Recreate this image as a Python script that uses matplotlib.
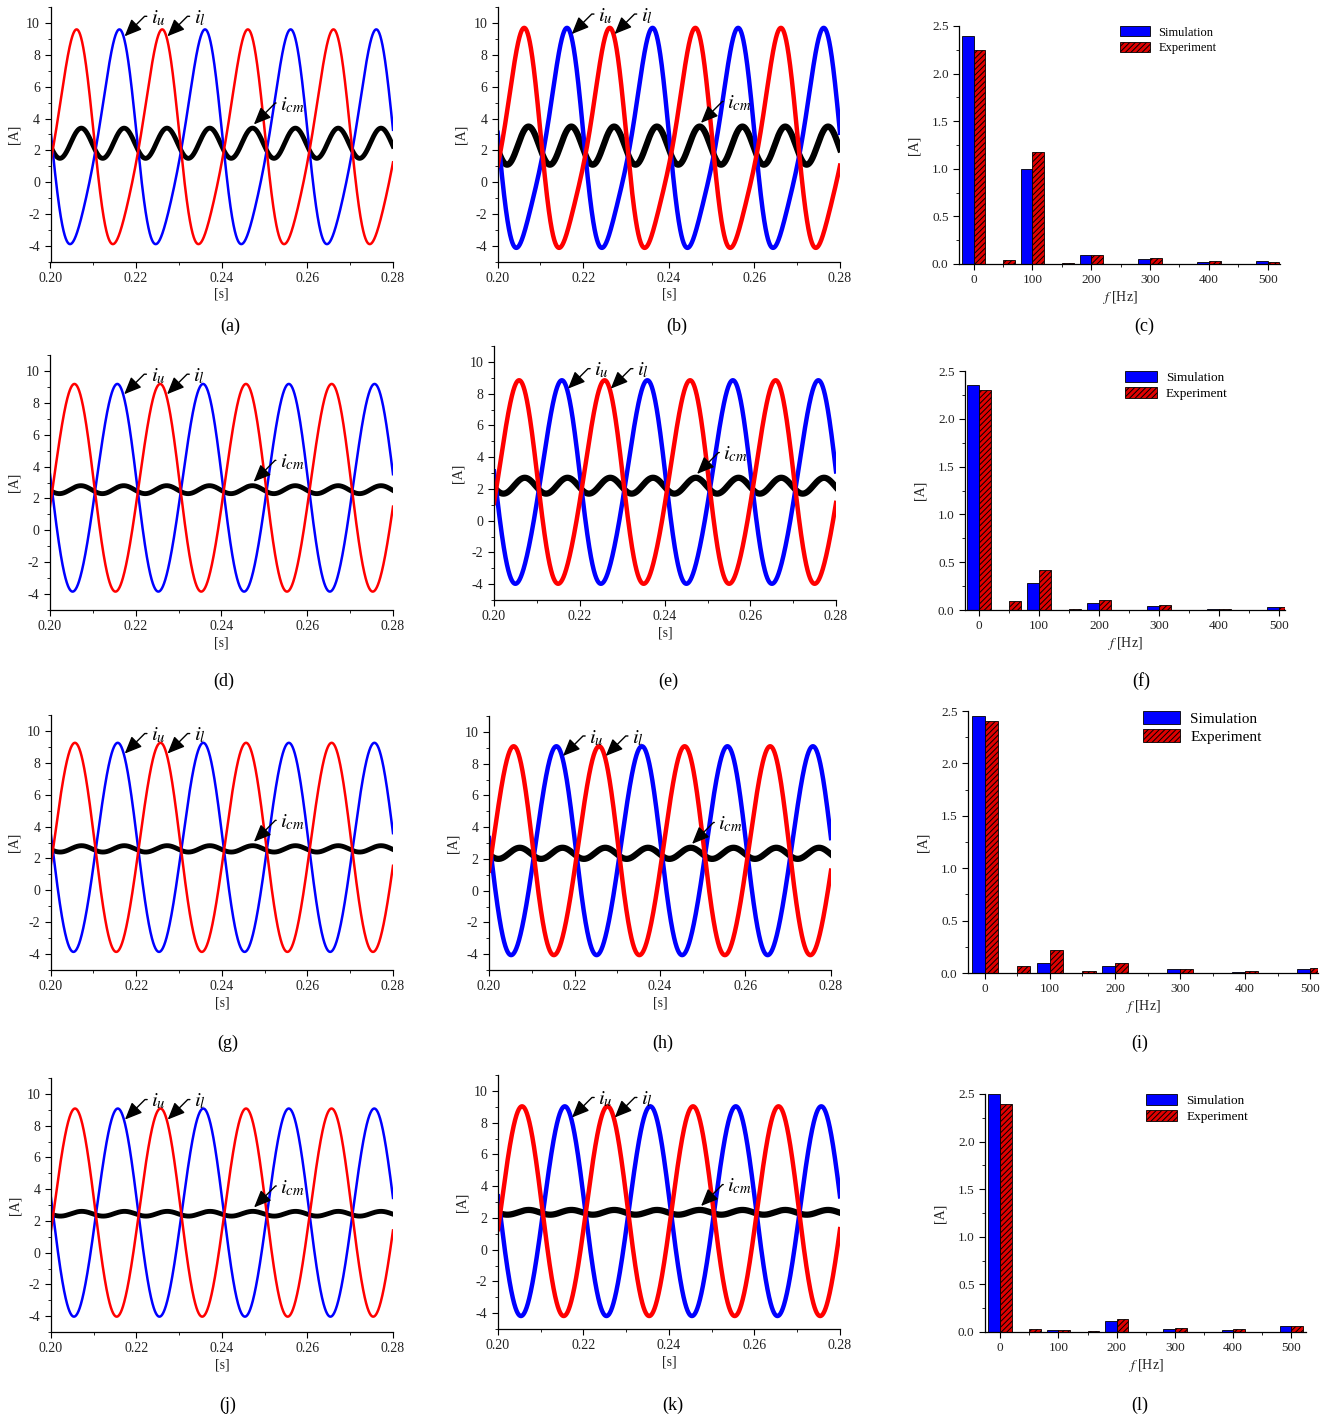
import numpy as np
import matplotlib
matplotlib.use("Agg")
import matplotlib.pyplot as plt
from matplotlib.ticker import MultipleLocator, FormatStrFormatter

matplotlib.rcParams.update({
    "font.family": "Liberation Serif",
    "mathtext.fontset": "stix",
    "axes.unicode_minus": False,
    "hatch.linewidth": 0.7,
    "axes.linewidth": 0.9,
})

W, H = 1332, 1421

# arm / circulating current waveforms, one entry per time-domain panel
# i_u = i_cm + i_ac, i_l = i_cm - i_ac
wave_panels = ["a", "b", "d", "e", "g", "h", "j", "k"]
ac_amp = [6.55, 6.6, 6.5, 6.35, 6.55, 6.55, 6.55, 6.6]
icm_dc = [2.45, 2.3, 2.55, 2.2, 2.6, 2.35, 2.45, 2.35]
icm_ripple = [0.95, 1.2, 0.25, 0.5, 0.2, 0.35, 0.15, 0.15]
f_grid = 50.0
t_peak_u = 0.2155      # upper-arm current maximum
t_peak_cm = 0.2072     # circulating current maximum

# harmonic spectra of i_cm
freqs = np.array([0, 50, 100, 150, 200, 300, 400, 500])
sim_c = [2.40, 0.0, 1.00, 0.0, 0.09, 0.05, 0.02, 0.03]
exp_c = [2.25, 0.04, 1.18, 0.01, 0.095, 0.06, 0.03, 0.02]
sim_f = [2.35, 0.0, 0.28, 0.0, 0.07, 0.04, 0.01, 0.035]
exp_f = [2.30, 0.09, 0.42, 0.015, 0.10, 0.055, 0.01, 0.035]
sim_i = [2.45, 0.0, 0.10, 0.0, 0.07, 0.04, 0.01, 0.035]
exp_i = [2.40, 0.07, 0.22, 0.015, 0.10, 0.04, 0.015, 0.045]
sim_l = [2.50, 0.0, 0.02, 0.0, 0.12, 0.03, 0.02, 0.06]
exp_l = [2.40, 0.035, 0.02, 0.01, 0.14, 0.045, 0.03, 0.06]
spectra = [("c", sim_c, exp_c), ("f", sim_f, exp_f), ("i", sim_i, exp_i), ("l", sim_l, exp_l)]

# axes boxes in pixels: left, top, right, bottom
wave_box = {
    "a": (50.5, 7.4, 393, 261.6), "b": (497.7, 7.4, 840, 261.6),
    "d": (50, 355, 393, 610), "e": (494, 346, 836, 600),
    "g": (50.7, 715, 393, 970), "h": (489, 716, 831, 970),
    "j": (51, 1078, 393, 1332), "k": (498, 1075, 840, 1329),
}
bar_box = {
    "c": ((959, 26, 1280, 264), (-25, 521), 9),
    "f": ((965, 371, 1285, 610), (-23, 510), 9.5),
    "i": ((968, 711, 1318, 973), (-26, 512), 11),
    "l": ((985, 1094, 1306, 1332), (-26, 525), 9.5),
}
panel_label = {
    "a": (230, 326), "b": (677, 326), "c": (1144, 326),
    "d": (224, 681), "e": (668, 681), "f": (1141, 681),
    "g": (228, 1043), "h": (663, 1043), "i": (1140, 1043),
    "j": (228, 1405), "k": (673, 1405), "l": (1140, 1405),
}


def px_rect(l, t, r, b):
    return [l / W, 1 - b / H, (r - l) / W, (b - t) / H]


def style_axes(ax):
    for s in ("top", "right"):
        ax.spines[s].set_visible(False)
    ax.tick_params(which="both", direction="out", labelsize=10, colors="black",
                   labelcolor="#222222")
    ax.tick_params(which="major", length=4)
    ax.tick_params(which="minor", length=2.5)


def arrow_label(ax, text, xy, offset):
    ax.annotate(text, xy=xy, xytext=offset, textcoords="offset points",
                fontsize=15, ha="left", va="center",
                arrowprops=dict(arrowstyle="-|>,head_length=0.7,head_width=0.3",
                                color="black", lw=1.0, relpos=(0, 0.6),
                                shrinkA=1, shrinkB=0,
                                connectionstyle="angle,angleA=0,angleB=45,rad=0"))


fig = plt.figure(figsize=(W / 100, H / 100), dpi=100)

w = 2 * np.pi * f_grid


def currents(k, t):
    icm = icm_dc[k] + icm_ripple[k] * np.cos(2 * w * (t - t_peak_cm))
    iac = ac_amp[k] * np.cos(w * (t - t_peak_u))
    return icm + iac, icm - iac, icm


t = np.linspace(0.2, 0.28, 3000)
for k, name in enumerate(wave_panels):
    ax = fig.add_axes(px_rect(*wave_box[name]))
    iu, il, icm = currents(k, t)
    measured = name in ("b", "e", "h", "k")
    lw_arm = 3.2 if measured else 1.8
    lw_cm = 4.5 if measured else 3.5
    ax.plot(t, icm, color="black", lw=lw_cm)
    ax.plot(t, iu, color="#0000FF", lw=lw_arm)
    ax.plot(t, il, color="#FF0000", lw=lw_arm)
    ax.set_xlim(0.2, 0.28)
    ax.set_ylim(-5, 11)
    ax.xaxis.set_major_locator(MultipleLocator(0.02))
    ax.xaxis.set_minor_locator(MultipleLocator(0.01))
    ax.xaxis.set_major_formatter(FormatStrFormatter("%.2f"))
    ax.yaxis.set_minor_locator(MultipleLocator(1))
    ax.set_yticks(np.arange(-4, 11, 2))
    style_axes(ax)
    ax.set_xlabel("[s]", fontsize=10, color="#222222", labelpad=2)
    ax.set_ylabel("[A]", fontsize=10, color="#222222", labelpad=4)

    # arrow tips sit just above the traces they point at
    tu = t_peak_u + 0.0018
    tl = t_peak_u + 0.0118
    tc = 0.2475
    arrow_label(ax, r"$i_u$", (tu, currents(k, tu)[0] + 0.25), (19, 13))
    arrow_label(ax, r"$i_l$", (tl, currents(k, tl)[1] + 0.25), (19, 13))
    arrow_label(ax, r"$i_{cm}$", (tc, currents(k, tc)[2] + 0.25), (19, 14))

for name, sim, exp in spectra:
    box, xlim, lfs = bar_box[name]
    ax = fig.add_axes(px_rect(*box))
    ax.bar(freqs - 10, sim, width=20, color="#0000FF", edgecolor="black", lw=0.6,
           label="Simulation")
    ax.bar(freqs + 10, exp, width=20, color="#E00000", edgecolor="black", lw=0.6,
           hatch="//////", label="Experiment")
    ax.set_xlim(*xlim)
    ax.set_ylim(0, 2.5)
    ax.xaxis.set_major_locator(MultipleLocator(100))
    ax.xaxis.set_minor_locator(MultipleLocator(50))
    ax.yaxis.set_major_locator(MultipleLocator(0.5))
    ax.yaxis.set_minor_locator(MultipleLocator(0.25))
    ax.yaxis.set_major_formatter(FormatStrFormatter("%.1f"))
    style_axes(ax)
    ax.tick_params(labelsize=9.5)
    ax.set_xlabel(r"$f$ [Hz]", fontsize=10, color="#222222", labelpad=2)
    ax.set_ylabel("[A]", fontsize=10, color="#222222", labelpad=8)
    ax.legend(loc="upper left", bbox_to_anchor=(0.50, 1.0), frameon=False,
              fontsize=lfs, borderaxespad=0, borderpad=0, handlelength=2.4,
              handleheight=0.9, labelspacing=0.25, handletextpad=0.7)

for name, (x, y) in panel_label.items():
    fig.text(x / W, 1 - y / H, f"({name})", fontsize=13, ha="center", va="center")

fig.savefig("out.png", dpi=100)
